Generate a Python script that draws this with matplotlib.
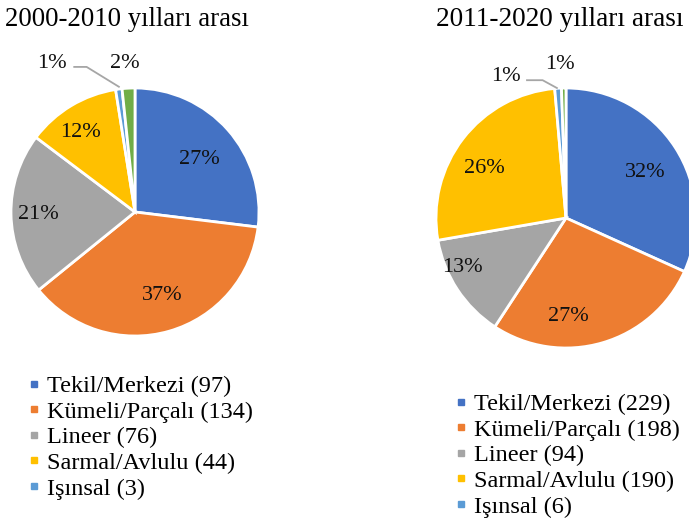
import matplotlib.pyplot as plt
from matplotlib.lines import Line2D

plt.rcParams['font.family'] = ['Liberation Serif', 'DejaVu Serif']

categories = ['Tekil/Merkezi', 'Kümeli/Parçalı', 'Lineer', 'Sarmal/Avlulu', 'Işınsal']
colors = ['#4472C4', '#ED7D31', '#A5A5A5', '#FFC000', '#5B9BD5', '#70AD47']

# counts per period (last value = unlabelled small slice)
counts_2000 = [97, 134, 76, 44, 3, 6]
counts_2011 = [229, 198, 94, 190, 6, 4]

titles = ['2000-2010 yılları arası', '2011-2020 yılları arası']

# label positions in pie radius units
lbl_pos_2000 = [(0.52, 0.42), (0.22, -0.67), (-0.78, -0.02), (-0.44, 0.64),
                (-0.67, 1.20), (-0.08, 1.20)]
lbl_pos_2011 = [(0.61, 0.35), (0.02, -0.76), (-0.80, -0.38), (-0.63, 0.38),
                (-0.46, 1.09), (-0.05, 1.18)]
leader_2000 = [(-0.49, 1.17), (-0.39, 1.17), (-0.13, 1.01)]
leader_2011 = [(-0.30, 1.06), (-0.18, 1.06), (-0.07, 1.00)]

W, H = 689, 526
fig = plt.figure(figsize=(W / 100, H / 100), dpi=100)


def draw_pie(cx, cy, r, counts, lbl_pos, leader):
    ax = fig.add_axes([(cx - r) / W, (H - cy - r) / H, 2 * r / W, 2 * r / H])
    ax.pie(counts, colors=colors, startangle=90, counterclock=False,
           wedgeprops=dict(edgecolor='white', linewidth=2.0))
    ax.set_xlim(-1, 1)
    ax.set_ylim(-1, 1)
    ax.set_aspect('equal')
    ax.axis('off')
    total = sum(counts)
    for v, (x, y) in zip(counts, lbl_pos):
        ax.text(x, y, f'{round(100 * v / total)}%', ha='center', va='center',
                fontsize=16, color='#111111', clip_on=False)
    xs, ys = zip(*leader)
    ax.plot(xs, ys, color='#A6A6A6', lw=1.3, clip_on=False)
    return ax


draw_pie(135, 212, 124, counts_2000, lbl_pos_2000, leader_2000)
draw_pie(566, 218, 130, counts_2011, lbl_pos_2011, leader_2011)

fig.text(5 / W, 1 - 19 / H, titles[0], fontsize=19.3, ha='left', va='center')
fig.text(436 / W, 1 - 19 / H, titles[1], fontsize=19.6, ha='left', va='center')


def add_legend(counts, x, y):
    handles = [Line2D([], [], marker='s', ls='', color=c, markersize=5)
               for c in colors[:5]]
    labels = [f'{n} ({v})' for n, v in zip(categories, counts[:5])]
    fig.legend(handles, labels, loc='upper left', bbox_to_anchor=(x / W, 1 - y / H),
               frameon=False, fontsize=17.5, handlelength=0.6, handletextpad=0.22,
               labelspacing=0.15, borderpad=0, borderaxespad=0)


add_legend(counts_2000, 27, 375)
add_legend(counts_2011, 454, 393)

fig.savefig('out.png', dpi=100)
